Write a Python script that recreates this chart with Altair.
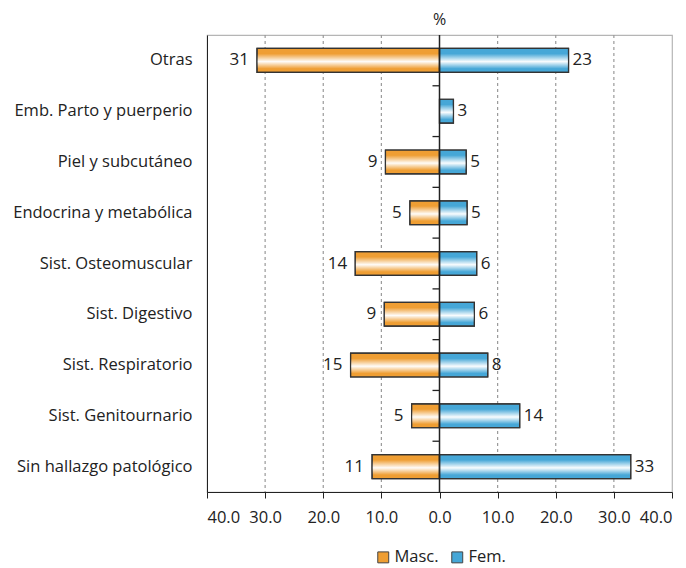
import altair as alt
import pandas as pd

categories = ["Otras", "Emb. Parto y puerperio", "Piel y subcutáneo",
              "Endocrina y metabólica", "Sist. Osteomuscular", "Sist. Digestivo",
              "Sist. Respiratorio", "Sist. Genitournario", "Sin hallazgo patológico"]
masc_values = [31.4, 0, 9.3, 5.1, 14.5, 9.5, 15.3, 4.8, 11.6]
fem_values = [22.2, 2.4, 4.6, 4.75, 6.4, 6.0, 8.3, 13.8, 32.9]
masc_labels = ["31", "", "9", "5", "14", "9", "15", "5", "11"]
fem_labels = ["23", "3", "5", "5", "6", "6", "8", "14", "33"]
grid_values = [-30, -20, -10, 10, 20, 30]
x_ticks = [-40, -30, -20, -10, 0, 10, 20, 30, 40]

ORANGE = "#EF9E33"
BLUE = "#46A7D7"
FONT = "Open Sans"

rows = []
for c, v, l in zip(categories, masc_values, masc_labels):
    rows.append({"cat": c, "sex": "Masc.", "value": -v, "label": l})
for c, v, l in zip(categories, fem_values, fem_labels):
    rows.append({"cat": c, "sex": "Fem.", "value": v, "label": l})
df = pd.DataFrame(rows)

xscale = alt.Scale(domain=[-40, 40], nice=False)
yscale = alt.Scale(domain=categories, paddingInner=0.53, paddingOuter=0.265)

base = alt.Chart(df)

xaxis = alt.Axis(values=x_ticks, labelExpr="format(abs(datum.value), '.1f')",
                 grid=False, title=None, domainColor="#222", tickColor="#222",
                 tickSize=6, labelFontSize=16.5, labelFont=FONT, labelColor="#222",
                 labelPadding=11)
yaxis = alt.Axis(title=None, ticks=False, domainColor="#222", labelFontSize=16.5,
                 labelFont=FONT, labelColor="#222", labelPadding=15,
                 labelLimit=300, minExtent=199, maxExtent=199)

grid = alt.Chart(pd.DataFrame({"g": grid_values})).mark_rule(
    color="#9a9a9a", strokeDash=[3, 3], strokeWidth=1.2
).encode(x=alt.X("g:Q", scale=xscale, axis=xaxis))

bars = base.transform_filter("datum.value != 0").mark_bar(
    stroke="#333", strokeWidth=1.2
).encode(
    x=alt.X("value:Q", scale=xscale, axis=xaxis),
    y=alt.Y("cat:N", sort=categories, scale=yscale, axis=yaxis),
    color=alt.Color("sex:N",
                    scale=alt.Scale(domain=["Masc.", "Fem."], range=[ORANGE, BLUE]),
                    legend=alt.Legend(orient="none", legendX=168, legendY=514,
                                      direction="horizontal", title=None, padding=0,
                                      symbolType="square", symbolSize=120,
                                      symbolStrokeColor="#444", symbolStrokeWidth=1,
                                      labelFontSize=16.5, labelFont=FONT, labelColor="#222",
                                      columnPadding=10, labelOffset=3)),
)

gloss = base.transform_filter("datum.value != 0").mark_bar(
    fill=alt.LinearGradient(
        gradient="linear", x1=0, x2=0, y1=0, y2=1,
        stops=[alt.GradientStop(color="rgba(255,255,255,0)", offset=0),
               alt.GradientStop(color="rgba(255,255,255,0)", offset=0.22),
               alt.GradientStop(color="rgba(255,255,255,0.97)", offset=0.55),
               alt.GradientStop(color="rgba(255,255,255,0)", offset=0.85),
               alt.GradientStop(color="rgba(255,255,255,0)", offset=1)]),
    strokeWidth=0
).encode(
    x=alt.X("value:Q", scale=xscale),
    y=alt.Y("cat:N", sort=categories, scale=yscale),
)

outline = base.transform_filter("datum.value != 0").mark_bar(
    fillOpacity=0, stroke="#333", strokeWidth=1.2
).encode(
    x=alt.X("value:Q", scale=xscale),
    y=alt.Y("cat:N", sort=categories, scale=yscale),
)

zero = alt.Chart(pd.DataFrame({"z": [0]})).mark_rule(color="#222", strokeWidth=1.5).encode(
    x=alt.X("z:Q", scale=xscale)
)

tick_df = pd.DataFrame({"cat": categories[1:]})
zero_ticks = alt.Chart(tick_df).mark_rule(color="#222", strokeWidth=1.3, x2Offset=-7).encode(
    x=alt.datum(0, scale=xscale),
    x2=alt.datum(0),
    y=alt.Y("cat:N", bandPosition=0,
            scale=alt.Scale(domain=categories, paddingInner=0, paddingOuter=0), axis=None),
)

text_m = base.transform_filter("datum.sex == 'Masc.' && datum.label != ''").mark_text(
    align="right", baseline="middle", dx=-8, fontSize=17, font=FONT, color="#222"
).encode(
    x=alt.X("value:Q", scale=xscale),
    y=alt.Y("cat:N", sort=categories, scale=yscale),
    text="label:N",
)
text_f = base.transform_filter("datum.sex == 'Fem.' && datum.label != ''").mark_text(
    align="left", baseline="middle", dx=4, fontSize=17, font=FONT, color="#222"
).encode(
    x=alt.X("value:Q", scale=xscale),
    y=alt.Y("cat:N", sort=categories, scale=yscale),
    text="label:N",
)

main = alt.layer(grid, bars, gloss, outline, zero, text_m, text_f)
chart = alt.layer(main, zero_ticks).resolve_scale(y="independent").properties(
    width=465, height=457,
    padding={"left": 0, "top": 4, "right": 0, "bottom": 0},
    title=alt.TitleParams("%", fontSize=16, font=FONT, fontWeight="normal",
                          color="#222", anchor="middle", offset=6)
).configure_view(stroke="#b5b5b5", strokeWidth=1.2)

chart.save("out.html", embed_options={"renderer": "svg", "actions": False})
